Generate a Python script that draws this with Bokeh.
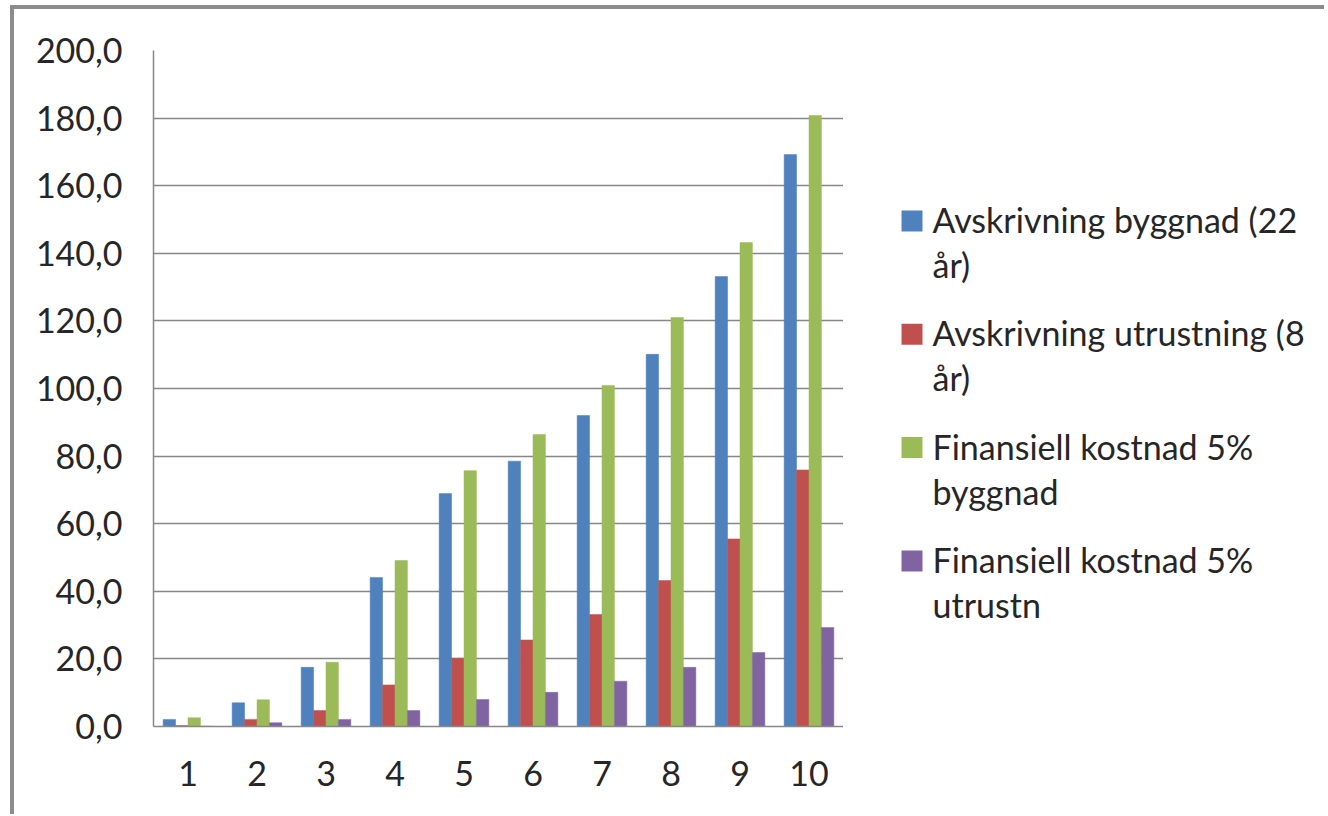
from bokeh.plotting import figure
from bokeh.layouts import row
from bokeh.models import Range1d, FixedTicker, ColumnDataSource
from bokeh.core.properties import value
from bokeh.transform import dodge
from bokeh.embed import file_html
from bokeh.resources import INLINE

categories = ["1", "2", "3", "4", "5", "6", "7", "8", "9", "10"]
avskr_bygg = [2.1, 7.0, 17.5, 44.1, 68.9, 78.5, 92.0, 110.1, 133.1, 169.2]
avskr_utr = [0.3, 2.1, 4.7, 12.3, 20.2, 25.6, 33.1, 43.2, 55.5, 75.9]
fin_bygg = [2.6, 7.9, 19.0, 49.1, 75.7, 86.4, 100.9, 121.0, 143.2, 180.8]
fin_utr = [0.1, 1.1, 2.1, 4.7, 8.0, 10.1, 13.4, 17.5, 21.9, 29.3]
# legend labels, split in two lines as in the original
series_line1 = ["Avskrivning byggnad (22", "Avskrivning utrustning (8",
                "Finansiell kostnad 5%", "Finansiell kostnad 5%"]
series_line2 = ["år)", "år)", "byggnad", "utrustn"]
colors = ["#4F81BD", "#C0504D", "#9BBB59", "#8064A2"]
y_ticks = [0, 20, 40, 60, 80, 100, 120, 140, 160, 180, 200]

FONT = "Lato"
TXT = "#262626"
GRID = "#878787"
H = 805
TOP = 41
FH = 676
BOT = H - TOP - FH

xs = list(range(1, len(categories) + 1))
src = ColumnDataSource(dict(x=xs, s0=avskr_bygg, s1=avskr_utr, s2=fin_bygg, s3=fin_utr))

p = figure(frame_width=690, frame_height=FH, output_backend="svg", toolbar_location=None,
           x_range=Range1d(0.5, 10.5), y_range=Range1d(0, 200),
           min_border_left=139, min_border_top=TOP, min_border_bottom=BOT, min_border_right=0)
p.outline_line_color = None
p.background_fill_color = "white"
p.border_fill_color = "white"

w = 0.18
offsets = [-1.5 * w, -0.5 * w, 0.5 * w, 1.5 * w]
for i, (off, c) in enumerate(zip(offsets, colors)):
    p.vbar(x=dodge("x", off), top="s%d" % i, width=w, bottom=0, source=src,
           fill_color=c, line_color=c, line_width=0.5)

# axes
p.xgrid.grid_line_color = None
p.ygrid.grid_line_color = GRID
p.ygrid.grid_line_width = 1.5
p.yaxis.ticker = FixedTicker(ticks=y_ticks)
p.yaxis.major_label_overrides = {t: ("%.1f" % t).replace(".", ",") for t in y_ticks}
p.yaxis.major_tick_in = 0
p.yaxis.major_tick_out = 11
p.yaxis.major_label_standoff = 20

p.xaxis.ticker = FixedTicker(ticks=xs, minor_ticks=[x - 0.5 for x in xs] + [xs[-1] + 0.5])
p.xaxis.major_label_overrides = {x: c for x, c in zip(xs, categories)}
p.xaxis.minor_tick_in = 0
p.xaxis.minor_tick_out = 12
p.xaxis.major_label_standoff = 22

for ax in (p.xaxis, p.yaxis):
    ax.axis_line_color = GRID
    ax.axis_line_width = 1.5
    ax.major_tick_line_color = GRID if ax is p.yaxis else None
    ax.major_tick_line_width = 1.5
    ax.minor_tick_line_color = GRID if ax is p.xaxis else None
    ax.minor_tick_line_width = 1.5
    ax.major_label_text_font = FONT
    ax.major_label_text_font_size = "34px"
    ax.major_label_text_color = TXT

# legend panel: pixel-like coordinates, y downwards (same vertical frame as the chart)
LW = 1310 - (139 + 690)
lg = figure(width=LW, frame_height=FH, output_backend="svg", toolbar_location=None,
            x_range=Range1d(0, LW), y_range=Range1d(TOP + FH, TOP),
            min_border_left=0, min_border_right=0, min_border_top=TOP, min_border_bottom=BOT)
lg.axis.visible = False
lg.grid.visible = False
lg.outline_line_color = None
lg.border_fill_color = "white"
lg.background_fill_color = "white"

pitch = 113.3
line_gap = 45
base0 = 223
n = len(series_line1)
base1 = [base0 + i * pitch for i in range(n)]
base2 = [b + line_gap for b in base1]
lg.rect(x=[68.5] * n, y=[b - 11.5 for b in base1], width=21, height=21,
        fill_color=colors, line_color=None)
for ys, texts in ((base1, series_line1), (base2, series_line2)):
    lg.text(x=[89] * n, y=[v - 13 for v in ys], text=texts, text_font=value(FONT),
            text_font_size="34px", text_color=TXT, text_baseline="alphabetic", text_align="left")

layout = row(p, lg, styles={"border-left": "4px solid #8c8c8c", "border-top": "4px solid #8c8c8c",
                            "margin-left": "10px", "margin-top": "5px"})

open("out.html", "w").write(file_html(layout, INLINE))
